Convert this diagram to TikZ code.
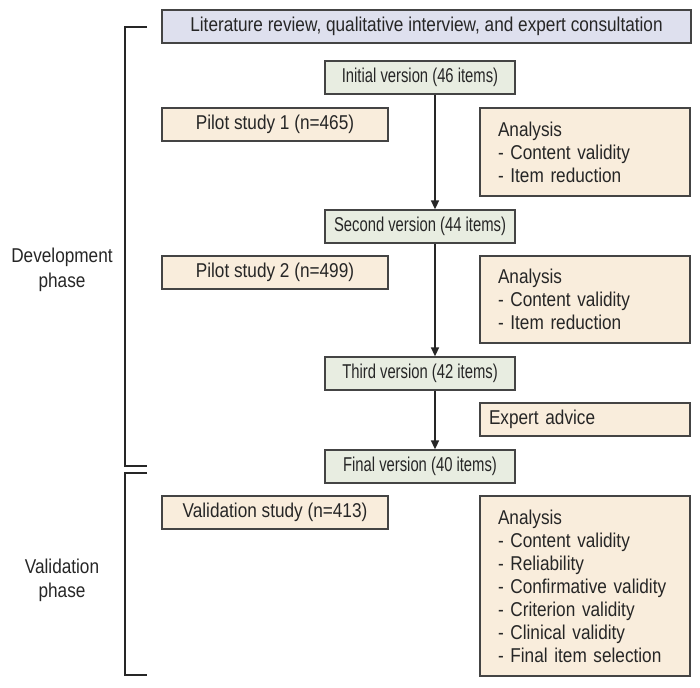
\documentclass[tikz,border=0pt]{standalone}
\usepackage{fontspec}
\setmainfont{Liberation Sans}[FakeStretch=0.86]
\newfontfamily\verfont{Liberation Sans}[FakeStretch=0.74]
\usetikzlibrary{arrows.meta}
\definecolor{litfill}{RGB}{222,224,238}
\definecolor{verfill}{RGB}{232,237,225}
\definecolor{infofill}{RGB}{249,237,220}
\definecolor{edge}{RGB}{68,68,68}
\tikzset{
  every node/.style={font=\fontsize{20}{23}\selectfont, text=black!85},
  box/.style={draw=edge, line width=1.3pt, minimum height=33pt, inner sep=0pt},
  topbox/.style={box, fill=litfill},
  verbox/.style={box, fill=verfill, minimum width=190pt, font=\verfont\fontsize{20}{23}\selectfont},
  infobox/.style={box, fill=infofill},
  listbox/.style={infobox, align=left, inner xsep=18pt, text width=174pt},
  flow/.style={draw=black!85, line width=1.6pt, -{Triangle[length=9pt,width=8pt]}},
  bracket/.style={draw=black!85, line width=2.6pt},
}
\begin{document}
\begin{tikzpicture}[x=1pt, y=-1pt]
  \useasboundingbox (0,0) rectangle (700,687);
  % boxes
  \node[topbox, minimum width=529pt] (lit) at (426.5,26.5)
    {Literature review, qualitative interview, and expert consultation};
  \node[verbox] (init) at (420,77.5) {Initial version (46 items)};
  \node[infobox, minimum width=226pt] (pilot1) at (275,124.5) {Pilot study 1 (n=465)};
  \node[listbox, minimum height=88pt] (ana1) at (585,152)
    {Analysis\\- Content validity\\- Item reduction};
  \node[verbox] (second) at (420,226.5) {Second version (44 items)};
  \node[infobox, minimum width=226pt] (pilot2) at (275,272.5) {Pilot study 2 (n=499)};
  \node[listbox, minimum height=87pt] (ana2) at (585,299.5)
    {Analysis\\- Content validity\\- Item reduction};
  \node[verbox] (third) at (420,373.5) {Third version (42 items)};
  \node[infobox, align=left, inner xsep=9pt, text width=192pt] (expert) at (585,419.5)
    {Expert advice};
  \node[verbox] (final) at (420,466.5) {Final version (40 items)};
  \node[infobox, minimum width=226pt] (valid) at (275,512.5) {Validation study (n=413)};
  \node[listbox, minimum height=180pt] (ana3) at (585,586)
    {Analysis\\- Content validity\\- Reliability\\- Confirmative validity\\- Criterion validity\\- Clinical validity\\- Final item selection};
  % phase labels
  \node[align=center, font=\fontsize{20}{25}\selectfont] (dev) at (62,269.5) {Development\\phase};
  \node[align=center, font=\fontsize{20}{24}\selectfont] (val) at (62,580) {Validation\\phase};
  % main line
  \coordinate (spine) at (435,0);
  \begin{scope}[flow]
    \draw (init.south -| spine) -- (second.north -| spine);
    \draw (second.south -| spine) -- (third.north -| spine);
    \draw (third.south -| spine) -- (final.north -| spine);
  \end{scope}
  % brackets
  \draw[bracket] (147,27) -| (125,466) -- (147,466);
  \draw[bracket] (147,473) -| (125,675) -- (147,675);
\end{tikzpicture}
\end{document}
